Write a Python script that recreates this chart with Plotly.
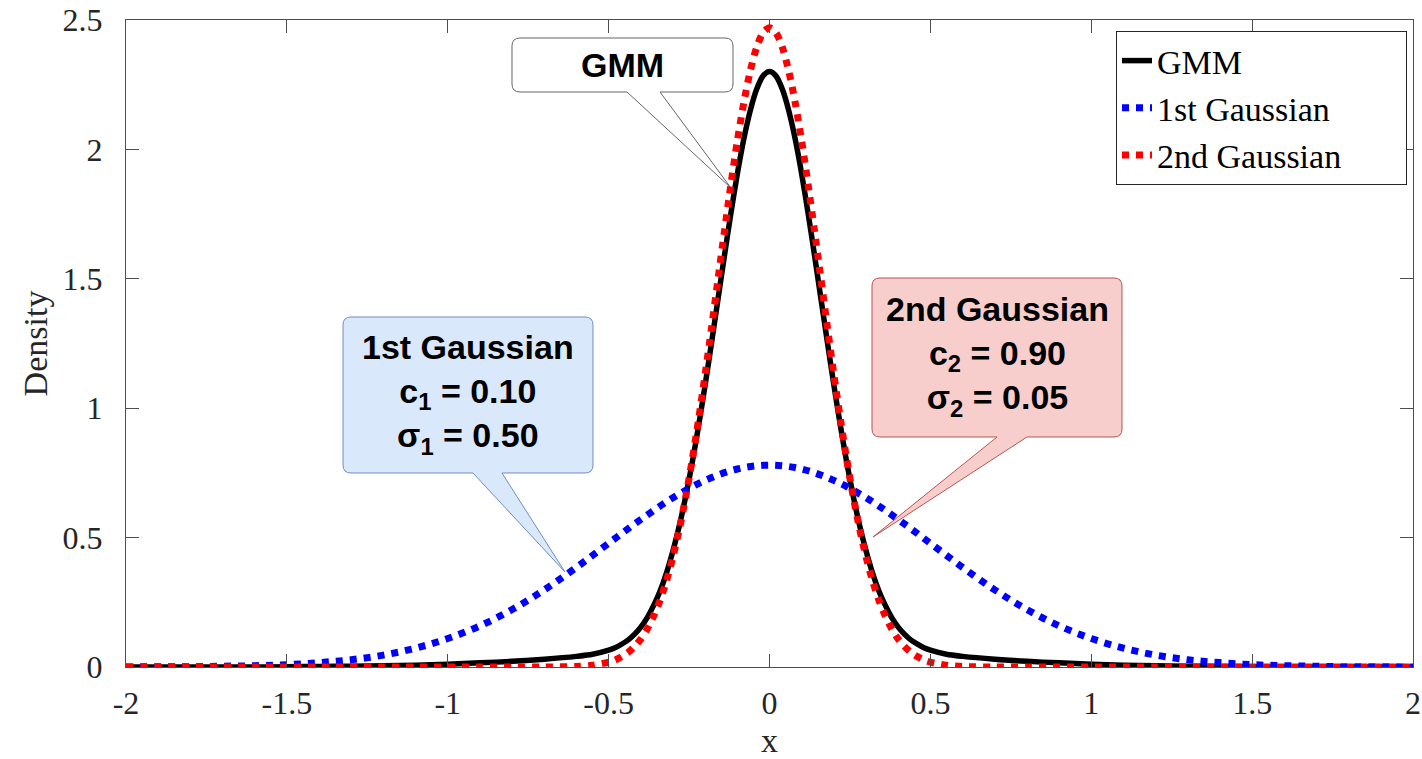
import plotly.graph_objects as go

# ---------------- data ----------------
x_fine = [-2.00, -1.80, -1.60, -1.50, -1.40, -1.30, -1.20, -1.10, -1.00, -0.90, -0.80, -0.70,
          -0.60, -0.55, -0.50, -0.48, -0.46, -0.44, -0.42, -0.40, -0.38, -0.36, -0.34, -0.32,
          -0.30, -0.28, -0.26, -0.24, -0.22, -0.20, -0.18, -0.16, -0.14, -0.12, -0.10, -0.08,
          -0.06, -0.04, -0.02, 0.00, 0.02, 0.04, 0.06, 0.08, 0.10, 0.12, 0.14, 0.16, 0.18,
          0.20, 0.22, 0.24, 0.26, 0.28, 0.30, 0.32, 0.34, 0.36, 0.38, 0.40, 0.42, 0.44, 0.46,
          0.48, 0.50, 0.55, 0.60, 0.70, 0.80, 0.90, 1.00, 1.10, 1.20, 1.30, 1.40, 1.50, 1.60,
          1.80, 2.00]

gmm = [0.000, 0.000, 0.000, 0.001, 0.002, 0.003, 0.005, 0.007, 0.011, 0.016, 0.022, 0.030,
       0.041, 0.049, 0.065, 0.074, 0.088, 0.104, 0.126, 0.154, 0.191, 0.238, 0.294, 0.364,
       0.449, 0.547, 0.662, 0.791, 0.935, 1.090, 1.254, 1.422, 1.590, 1.753, 1.905, 2.039,
       2.149, 2.232, 2.284, 2.301, 2.284, 2.232, 2.149, 2.039, 1.905, 1.753, 1.590, 1.422, 1.254,
       1.090, 0.935, 0.791, 0.662, 0.547, 0.449, 0.364, 0.294, 0.238, 0.191, 0.154, 0.126, 0.104, 0.088,
       0.074, 0.065, 0.049, 0.041, 0.030, 0.022, 0.016, 0.011, 0.007, 0.005, 0.003, 0.002, 0.001, 0.000,
       0.000, 0.000]

gauss2 = [0.000, 0.000, 0.000, 0.000, 0.000, 0.000, 0.000, 0.000, 0.000, 0.000, 0.000, 0.000,
          0.002, 0.007, 0.019, 0.027, 0.040, 0.056, 0.079, 0.108, 0.147, 0.197, 0.258, 0.334,
          0.426, 0.534, 0.660, 0.802, 0.960, 1.131, 1.312, 1.498, 1.684, 1.864, 2.032, 2.180,
          2.302, 2.394, 2.451, 2.470, 2.451, 2.394, 2.302, 2.180, 2.032, 1.864, 1.684, 1.498, 1.312,
          1.131, 0.960, 0.802, 0.660, 0.534, 0.426, 0.334, 0.258, 0.197, 0.147, 0.108, 0.079, 0.056, 0.040,
          0.027, 0.019, 0.007, 0.002, 0.000, 0.000, 0.000, 0.000, 0.000, 0.000, 0.000, 0.000, 0.000, 0.000,
          0.000, 0.000]

x_coarse = [-2.0, -1.9, -1.8, -1.7, -1.6, -1.5, -1.4, -1.3, -1.2, -1.1, -1.0, -0.9, -0.8, -0.7,
            -0.6, -0.5, -0.4, -0.3, -0.2, -0.1, 0.0, 0.1, 0.2, 0.3, 0.4, 0.5, 0.6, 0.7, 0.8,
            0.9, 1.0, 1.1, 1.2, 1.3, 1.4, 1.5, 1.6, 1.7, 1.8, 1.9, 2.0]
gauss1 = [0.000, 0.001, 0.001, 0.003, 0.005, 0.009, 0.017, 0.028, 0.046, 0.073, 0.110, 0.159,
          0.222, 0.298, 0.385, 0.478, 0.570, 0.654, 0.721, 0.765, 0.780, 0.765, 0.721, 0.654,
          0.570, 0.478, 0.385, 0.298, 0.222, 0.159, 0.110, 0.073, 0.046, 0.028, 0.017, 0.009,
          0.005, 0.003, 0.001, 0.001, 0.000]

series_names = ["GMM", "1st Gaussian", "2nd Gaussian"]
x_ticks = [-2, -1.5, -1, -0.5, 0, 0.5, 1, 1.5, 2]
x_ticktext = ["-2", "-1.5", "-1", "-0.5", "0", "0.5", "1", "1.5", "2"]
y_ticks = [0, 0.5, 1, 1.5, 2, 2.5]
y_ticktext = ["0", "0.5", "1", "1.5", "2", "2.5"]

label_gmm = "GMM"
label_g1 = "1st Gaussian<br>c<sub>1</sub> = 0.10<br>σ<sub>1</sub> = 0.50"
label_g2 = "2nd Gaussian<br>c<sub>2</sub> = 0.90<br>σ<sub>2</sub> = 0.05"

# ---------------- layout geometry (pixels) ----------------
W, H = 1422, 759
PL, PR, PT, PB = 126, 1413, 20, 667
AX = "#4d4d4d"
TXT = "#262626"
SERIF = "Liberation Serif"
SANS = "Liberation Sans"
LEG_PAD = "\u00a0" * 7   # empty room on the right of the legend text, as in the reference


def fx(px):
    return (px - PL) / (PR - PL)


def fy(py):
    return (PB - py) / (PB - PT)


def callout(x0, y0, x1, y1, bx1, bx2, tx, ty, r=8):
    def p(a, b):
        return f"{fx(a):.5f},{fy(b):.5f}"
    return (f"M {p(x0 + r, y0)} L {p(x1 - r, y0)} Q {p(x1, y0)} {p(x1, y0 + r)} "
            f"L {p(x1, y1 - r)} Q {p(x1, y1)} {p(x1 - r, y1)} L {p(bx2, y1)} L {p(tx, ty)} "
            f"L {p(bx1, y1)} L {p(x0 + r, y1)} Q {p(x0, y1)} {p(x0, y1 - r)} "
            f"L {p(x0, y0 + r)} Q {p(x0, y0)} {p(x0 + r, y0)} Z")


fig = go.Figure()
fig.add_trace(go.Scatter(x=x_fine, y=gmm, mode="lines", name=series_names[0] + LEG_PAD,
                         line=dict(color="black", width=5.5, shape="spline", smoothing=0.8)))
fig.add_trace(go.Scatter(x=x_coarse, y=gauss1, mode="lines", name=series_names[1] + LEG_PAD,
                         line=dict(color="#0000ff", width=7, dash="dot", shape="spline")))
fig.add_trace(go.Scatter(x=x_fine, y=gauss2, mode="lines", name=series_names[2] + LEG_PAD,
                         line=dict(color="#ff0000", width=7, dash="dot", shape="spline", smoothing=0.8)))

shapes = [
    dict(type="path", xref="paper", yref="paper", layer="below",
         path=callout(512, 38, 733, 92, 627, 660, 731, 188),
         fillcolor="white", line=dict(color="#666666", width=1)),
    dict(type="path", xref="paper", yref="paper", layer="below",
         path=callout(343, 317, 593, 473, 473, 502, 565, 572),
         fillcolor="#dae8fc", line=dict(color="#6c8ebf", width=1)),
    dict(type="path", xref="paper", yref="paper", layer="below",
         path=callout(872, 278, 1122, 437, 997, 1027, 873, 537),
         fillcolor="#f8cecc", line=dict(color="#b85450", width=1)),
]

ann_font = dict(family=SANS, size=34, color="black", weight="bold")
annotations = [
    dict(xref="paper", yref="paper", x=fx(622), y=fy(65), text=label_gmm, showarrow=False,
         xanchor="center", yanchor="middle", font=ann_font),
    dict(xref="paper", yref="paper", x=fx(468), y=fy(394), text=label_g1, showarrow=False,
         xanchor="center", yanchor="middle", align="center", font=ann_font),
    dict(xref="paper", yref="paper", x=fx(997), y=fy(356), text=label_g2, showarrow=False,
         xanchor="center", yanchor="middle", align="center", font=ann_font),
]

axis_common = dict(showline=True, linecolor=AX, linewidth=1, mirror="ticks",
                   ticks="inside", ticklen=13, tickwidth=1, tickcolor=AX,
                   showgrid=False, zeroline=False, automargin=False,
                   tickfont=dict(family=SERIF, size=32, color=TXT))

fig.update_layout(
    width=W, height=H, autosize=False,
    margin=dict(l=PL, r=W - PR, t=PT, b=H - PB, pad=0, autoexpand=False),
    paper_bgcolor="white", plot_bgcolor="white",
    shapes=shapes, annotations=annotations,
    xaxis=dict(range=[-2, 2], tickmode="array", tickvals=x_ticks, ticktext=x_ticktext,
               ticklabelstandoff=8,
               title=dict(text="x", font=dict(family=SERIF, size=34, color=TXT), standoff=8),
               **axis_common),
    yaxis=dict(range=[0, 2.5], tickmode="array", tickvals=y_ticks, ticktext=y_ticktext,
               ticklabelstandoff=16,
               title=dict(text="Density", font=dict(family=SERIF, size=34, color=TXT), standoff=4),
               **axis_common),
    legend=dict(x=fx(1407), y=fy(31), xanchor="right", yanchor="top",
                bgcolor="white", bordercolor=TXT, borderwidth=1,
                font=dict(family=SERIF, size=34, color="black"),
                itemwidth=30, tracegroupgap=0),
    showlegend=True,
)

fig.write_html("out.html")
